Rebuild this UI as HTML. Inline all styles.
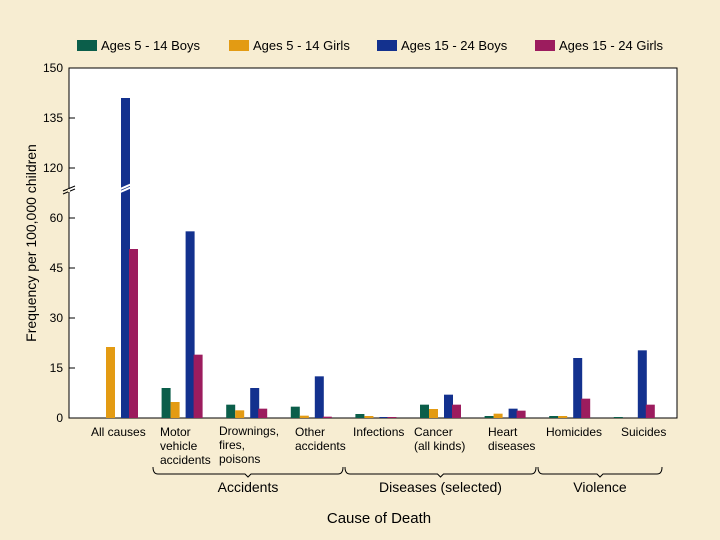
<!DOCTYPE html>
<html><head><meta charset="utf-8"><style>
html,body{margin:0;padding:0;background:#f7edd2;}
svg{display:block;font-family:"Liberation Sans",sans-serif;}
</style></head><body>
<svg id="chart" width="720" height="540" viewBox="0 0 720 540">
<rect x="0" y="0" width="720" height="540" fill="#f7edd2"/>
<rect x="69" y="68" width="608" height="350" fill="#ffffff" stroke="#000" stroke-width="1"/>
<g id="legend"></g>
<g id="bars"></g>
<g id="yaxis"></g>
<g id="xlabels" font-size="12" fill="#000"></g>
<text x="36" y="243" font-size="14" text-anchor="middle" transform="rotate(-90 36 243)">Frequency per 100,000 children</text>
<text x="379" y="523" font-size="15" text-anchor="middle">Cause of Death</text>
</svg>
<script>
const categories = ["All causes","Motor vehicle accidents","Drownings, fires, poisons","Other accidents","Infections","Cancer (all kinds)","Heart diseases","Homicides","Suicides"];
const boys514 = [0, 9, 4, 3.4, 1.2, 4, 0.6, 0.6, 0.3];
const girls514 = [21.3, 4.8, 2.3, 0.7, 0.6, 2.7, 1.3, 0.6, 0];
const boys1524 = [141, 56, 9, 12.5, 0.3, 7, 2.8, 18, 20.3];
const girls1524 = [50.7, 19, 2.8, 0.4, 0.3, 4, 2.2, 5.8, 4];
const seriesNames = ["Ages 5 - 14 Boys","Ages 5 - 14 Girls","Ages 15 - 24 Boys","Ages 15 - 24 Girls"];
const lowerTicks = [0, 15, 30, 45, 60];
const upperTicks = [120, 135, 150];

const NS = "http://www.w3.org/2000/svg";
const colors = ["#0b5e4a","#e39b13","#13318e","#9c1c5e"];
const series = [boys514, girls514, boys1524, girls1524];
function mk(tag, attrs, parent){const e=document.createElementNS(NS,tag);for(const k in attrs)e.setAttribute(k,attrs[k]);parent.appendChild(e);return e;}
// y axis with break: lower 0..~68 ; upper 113..150
const PX = 350/105;
function yScale(v){ if(v<=68) return 418 - v*PX; return 168 - (v-120)*PX; }
function xGroup(i){ return 97 + i*64.6; }
const offsets = [0, 9, 24, 32];

const bars = document.getElementById('bars');
series.forEach((s, si) => {
  s.forEach((v, i) => {
    if (v <= 0) return;
    const y = yScale(v);
    const r = mk('rect', {x: xGroup(i)+offsets[si], y: y, width: 9, height: 418 - y, fill: colors[si]}, bars);
    
    
  });
});
// break marks on the tall bar and axis
const brk = mk('g', {}, bars);


mk('path', {d:"M118 193 L134 186 M118 190 L134 183", stroke:"#fff", "stroke-width":"2", fill:"none"}, brk);
mk('path', {d:"M63 194 L75 189 M63 191 L75 186", stroke:"#000", "stroke-width":"1", fill:"none"}, brk);
mk('rect', {x:68, y:189, width:2, height:3, fill:"#f7edd2"}, brk);

const ya = document.getElementById('yaxis');
lowerTicks.concat(upperTicks).forEach(t => {
  const y = yScale(t);
  mk('line', {x1:69, x2:75, y1:y, y2:y, stroke:"#000"}, ya);
  const tx = mk('text', {x:63, y:y+4, "font-size":"12", "text-anchor":"end"}, ya);
  tx.textContent = t;
  
  
});

const lg = document.getElementById('legend');
const lx = [77, 229, 377, 535];
seriesNames.forEach((n, i) => {
  const r = mk('rect', {x: lx[i], y: 40, width: 20, height: 11, fill: colors[i]}, lg);
  
  
  const t = mk('text', {x: lx[i]+24, y: 50, "font-size":"13"}, lg);
  t.textContent = n;
  
  
});

const xl = document.getElementById('xlabels');
const labelLines = [["All causes"],["Motor","vehicle","accidents"],["Drownings,","fires,","poisons"],["Other","accidents"],["Infections"],["Cancer","(all kinds)"],["Heart","diseases"],["Homicides"],["Suicides"]];
const labelX = [91, 160, 219, 295, 353, 414, 488, 546, 621];
const labelY0 = [436, 436, 435, 436, 436, 436, 436, 436, 436];
labelLines.forEach((ls, i) => {
  const t = mk('text', {x: labelX[i], y: labelY0[i]}, xl);
  
  
  ls.forEach((l, j) => { const ts = mk('tspan', {x: labelX[i], dy: j===0?0:14}, t); ts.textContent = l; });
});
// group braces
const groups = [["Accidents",153,343],["Diseases (selected)",345,536],["Violence",538,662]];
groups.forEach(g => {
  const m = (g[1]+g[2])/2;
  const p = mk('path', {d:`M${g[1]} 467 Q${g[1]} 474 ${g[1]+5} 474 L${m-3} 474 L${m} 477 L${m+3} 474 L${g[2]-5} 474 Q${g[2]} 474 ${g[2]} 467`, stroke:"#000", fill:"none"}, xl);
  
  
  const t = mk('text', {x: m, y: 492, "font-size":"14", "text-anchor":"middle"}, xl);
  t.textContent = g[0];
  
  
});
</script>
</body></html>
